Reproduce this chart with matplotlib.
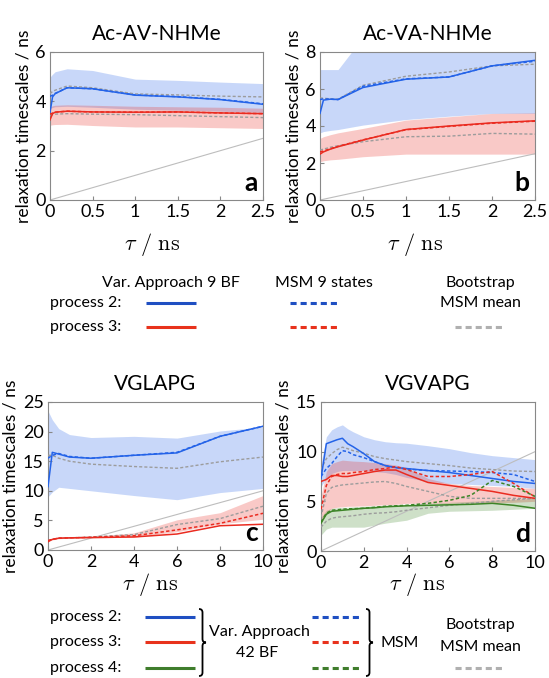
import numpy as np
import matplotlib
matplotlib.use("Agg")
import matplotlib.pyplot as plt
from matplotlib.lines import Line2D
from matplotlib.path import Path
from matplotlib.patches import PathPatch

plt.rcParams['font.family'] = ['Lato', 'DejaVu Sans']
plt.rcParams['mathtext.fontset'] = 'cm'

# ---------------- data ----------------
titles = ["Ac-AV-NHMe", "Ac-VA-NHMe", "VGLAPG", "VGVAPG"]
letters = ["a", "b", "c", "d"]

# panel a
tau_a = [0, 0.03, 0.06, 0.2, 0.5, 1.0, 1.5, 2.0, 2.5]
va2_a = [3.55, 4.18, 4.31, 4.55, 4.51, 4.25, 4.18, 4.07, 3.88]
msm2_a = [4.2, 4.25, 4.32, 4.55, 4.51, 4.26, 4.19, 4.08, 3.9]
bs2_a = [4.31, 4.4, 4.45, 4.62, 4.55, 4.3, 4.26, 4.21, 4.18]
hi2_a = [4.98, 5.1, 5.2, 5.32, 5.25, 4.9, 4.85, 4.78, 4.72]
lo2_a = [3.72, 3.75, 3.78, 3.8, 3.76, 3.68, 3.64, 3.6, 3.55]
va3_a = [3.25, 3.5, 3.56, 3.6, 3.57, 3.56, 3.57, 3.53, 3.5]
msm3_a = [3.48, 3.52, 3.56, 3.6, 3.57, 3.56, 3.57, 3.53, 3.5]
bs3_a = [3.44, 3.46, 3.48, 3.5, 3.48, 3.46, 3.42, 3.38, 3.34]
hi3_a = [3.78, 3.82, 3.84, 3.86, 3.84, 3.8, 3.78, 3.76, 3.72]
lo3_a = [3.03, 3.05, 3.06, 3.07, 3.02, 2.96, 2.96, 2.93, 2.9]

# panel b
tau_b = [0, 0.04, 0.12, 0.21, 0.5, 1.0, 1.5, 2.0, 2.5]
va2_b = [4.68, 5.4, 5.45, 5.43, 6.08, 6.53, 6.65, 7.25, 7.55]
msm2_b = [5.43, 5.47, 5.45, 5.43, 6.15, 6.55, 6.65, 7.25, 7.5]
bs2_b = [5.52, 5.5, 5.47, 5.45, 6.2, 6.69, 6.92, 7.25, 7.34]
hi2_b = [7.05, 7.05, 7.05, 7.05, 8.8, 9.5, 9.8, 10.0, 10.2]
lo2_b = [3.63, 3.7, 3.76, 3.81, 4.05, 4.35, 4.53, 4.68, 4.68]
va3_b = [2.48, 2.6, 2.75, 2.88, 3.24, 3.81, 4.0, 4.17, 4.28]
msm3_b = [2.6, 2.65, 2.77, 2.9, 3.25, 3.8, 3.98, 4.15, 4.26]
bs3_b = [2.7, 2.75, 2.85, 2.93, 3.15, 3.42, 3.45, 3.6, 3.56]
hi3_b = [3.33, 3.42, 3.53, 3.63, 3.87, 4.32, 4.5, 4.68, 4.71]
lo3_b = [2.07, 2.12, 2.17, 2.2, 2.34, 2.48, 2.48, 2.48, 2.48]

# panel c
tau_c = [0, 0.2, 0.5, 1, 2, 4, 6, 8, 10]
va2_c = [10.7, 16.5, 16.2, 15.7, 15.5, 16.0, 16.4, 19.2, 20.9]
msm2_c = [15.5, 16.0, 16.3, 15.8, 15.5, 16.0, 16.5, 19.2, 20.9]
bs2_c = [16.0, 16.0, 15.5, 15.0, 14.5, 14.1, 13.8, 14.9, 15.7]
hi2_c = [23.5, 22.0, 20.5, 19.5, 19.0, 19.2, 18.9, 20.1, 20.8]
lo2_c = [9.0, 9.8, 10.6, 10.4, 10.0, 9.2, 8.5, 9.7, 10.4]
va3_c = [1.4, 1.8, 2.0, 2.05, 2.1, 2.2, 2.7, 4.1, 4.35]
msm3_c = [1.6, 1.8, 2.0, 2.05, 2.15, 2.4, 3.4, 4.5, 6.2]
bs3_c = [1.6, 1.8, 2.0, 2.05, 2.2, 2.6, 4.3, 5.3, 7.4]
hi3_c = [1.7, 1.9, 2.1, 2.15, 2.3, 2.9, 5.1, 6.3, 9.2]
lo3_c = [1.5, 1.7, 1.9, 2.0, 2.05, 2.15, 3.1, 4.4, 5.2]

# panel d
tau_d = [0, 0.25, 0.5, 0.75, 1.0, 1.25, 1.5, 2, 2.5, 3, 3.5, 4, 5, 6, 7, 8, 9, 10]
va2_d = [7.3, 10.8, 11.0, 11.2, 11.35, 10.8, 10.5, 9.8, 9.0, 8.6, 8.4, 8.3, 8.1, 7.9, 7.6, 7.3, 7.0, 6.8]
msm2_d = [7.5, 8.3, 8.8, 9.5, 10.1, 10.0, 9.7, 9.4, 9.0, 8.6, 8.4, 8.25, 8.1, 8.05, 8.0, 7.9, 7.7, 7.0]
bs2_d = [8.2, 9.3, 9.8, 10.2, 10.45, 10.3, 10.1, 9.85, 9.5, 9.3, 9.15, 9.0, 8.8, 8.6, 8.35, 8.2, 8.05, 8.0]
hi2_d = [8.8, 11.5, 12.2, 12.5, 12.7, 12.3, 12.0, 11.5, 11.2, 11.0, 10.9, 10.85, 10.6, 10.3, 9.9, 9.6, 9.4, 9.2]
lo2_d = [6.5, 7.3, 7.8, 8.0, 8.1, 8.1, 8.1, 8.1, 8.0, 7.9, 7.7, 7.4, 7.0, 6.8, 6.7, 6.6, 6.5, 6.3]
va3_d = [7.0, 7.2, 7.6, 7.6, 7.5, 7.5, 7.6, 7.8, 8.0, 8.15, 8.15, 7.7, 6.9, 6.6, 6.3, 6.0, 5.6, 5.3]
msm3_d = [4.2, 6.6, 7.5, 7.7, 7.8, 7.8, 7.9, 8.0, 8.2, 8.3, 8.5, 8.2, 7.5, 7.5, 7.7, 8.0, 6.8, 5.45]
bs3_d = [3.4, 5.8, 6.4, 6.55, 6.65, 6.7, 6.75, 6.85, 6.95, 7.0, 6.8, 6.5, 6.0, 5.5, 5.3, 5.3, 5.3, 5.3]
hi3_d = [5.5, 8.0, 8.8, 9.0, 9.15, 9.1, 9.05, 9.0, 8.9, 8.8, 8.65, 8.4, 7.3, 6.8, 6.6, 6.5, 6.4, 6.3]
lo3_d = [2.8, 3.8, 4.3, 4.4, 4.45, 4.5, 4.5, 4.55, 4.6, 4.65, 4.7, 4.8, 4.8, 4.8, 4.85, 4.85, 4.9, 5.0]
va4_d = [2.8, 3.7, 4.0, 4.05, 4.1, 4.15, 4.2, 4.3, 4.35, 4.45, 4.5, 4.55, 4.6, 4.65, 4.7, 4.8, 4.6, 4.3]
msm4_d = [2.9, 3.8, 4.1, 4.15, 4.2, 4.25, 4.25, 4.3, 4.4, 4.5, 4.55, 4.6, 4.8, 5.1, 5.6, 7.1, 6.5, 5.5]
bs4_d = [2.4, 3.0, 3.3, 3.4, 3.45, 3.5, 3.55, 3.7, 3.8, 3.85, 3.95, 4.1, 4.35, 4.6, 4.8, 5.0, 5.15, 5.3]
hi4_d = [3.4, 4.1, 4.3, 4.35, 4.4, 4.4, 4.45, 4.5, 4.55, 4.6, 4.65, 4.7, 4.8, 4.9, 5.0, 5.1, 5.2, 5.3]
lo4_d = [1.6, 2.2, 2.4, 2.4, 2.4, 2.4, 2.4, 2.4, 2.6, 2.8, 2.95, 3.1, 3.8, 4.0, 4.05, 4.1, 4.2, 4.3]

xlims = [2.5, 2.5, 10, 10]
ylims = [6, 8, 25, 15]
xticks = [[0, 0.5, 1, 1.5, 2, 2.5], [0, 0.5, 1, 1.5, 2, 2.5],
          [0, 2, 4, 6, 8, 10], [0, 2, 4, 6, 8, 10]]
xticklabels = [["0", "0.5", "1", "1.5", "2", "2.5"], ["0", "0.5", "1", "1.5", "2", "2.5"],
               ["0", "2", "4", "6", "8", "10"], ["0", "2", "4", "6", "8", "10"]]
yticks = [[0, 2, 4, 6], [0, 2, 4, 6, 8], [0, 5, 10, 15, 20, 25], [0, 5, 10, 15]]

# ---------------- style ----------------
BLUE = '#2463e8'
RED = '#ea2b20'
GREEN = '#3c8427'
GREY = '#9c9c9c'
LBLUE = '#1f4fc2'
LRED = '#e8321c'
LGREEN = '#3f7d2c'
BAND_A = 0.25

W, H = 549, 678
fig = plt.figure(figsize=(W / 100, H / 100), dpi=100)


def rect(l, t, r, b):
    return [l / W, 1 - b / H, (r - l) / W, (b - t) / H]


def fx(px):
    return px / W


def fy(py):
    return 1 - py / H


axes = [fig.add_axes(rect(50, 52, 263, 200)),
        fig.add_axes(rect(320, 52, 535, 200)),
        fig.add_axes(rect(48, 402, 263, 550)),
        fig.add_axes(rect(321, 402, 535, 551))]

panels = [
    (tau_a, [(va2_a, msm2_a, bs2_a, hi2_a, lo2_a, BLUE),
             (va3_a, msm3_a, bs3_a, hi3_a, lo3_a, RED)]),
    (tau_b, [(va2_b, msm2_b, bs2_b, hi2_b, lo2_b, BLUE),
             (va3_b, msm3_b, bs3_b, hi3_b, lo3_b, RED)]),
    (tau_c, [(va2_c, msm2_c, bs2_c, hi2_c, lo2_c, BLUE),
             (va3_c, msm3_c, bs3_c, hi3_c, lo3_c, RED)]),
    (tau_d, [(va2_d, msm2_d, bs2_d, hi2_d, lo2_d, BLUE),
             (va3_d, msm3_d, bs3_d, hi3_d, lo3_d, RED),
             (va4_d, msm4_d, bs4_d, hi4_d, lo4_d, GREEN)]),
]

DASH = (2.2, 1.5)
for i, (ax, (tau, series)) in enumerate(zip(axes, panels)):
    for va, msm, bs, hi, lo, col in series:
        ax.fill_between(tau, lo, hi, color=col, alpha=BAND_A, lw=0, zorder=1)
    ax.axline((0, 0), slope=1, color='#bdbdbd', lw=0.8, zorder=2)
    for va, msm, bs, hi, lo, col in series:
        ax.plot(tau, bs, color=GREY, lw=1.0, dashes=DASH, zorder=3)
    for va, msm, bs, hi, lo, col in series:
        ax.plot(tau, va, color=col, lw=1.1, zorder=4)
        ax.plot(tau, msm, color=col, lw=1.1, dashes=DASH, zorder=5)
    ax.set_xlim(0, xlims[i])
    ax.set_ylim(0, ylims[i])
    ax.set_xticks(xticks[i])
    ax.set_xticklabels(xticklabels[i])
    ax.set_yticks(yticks[i])
    ax.tick_params(direction='in', length=3, width=0.8, color='#888888',
                   labelsize=13, pad=3)
    for s in ax.spines.values():
        s.set_color('#888888')
        s.set_linewidth(0.8)
    ax.set_title(titles[i], fontsize=15, pad=9)
    ax.set_ylabel("relaxation timescales / ns", fontsize=12.5, labelpad=3)
    ax.text(0.975, 0.035, letters[i], transform=ax.transAxes, ha='right',
            va='bottom', fontsize=19, fontweight='bold')

# x labels
for xc, yc in [(152, 244), (415, 244), (150, 584), (417, 584)]:
    fig.text(fx(xc), fy(yc), r'$\tau\ /\ \mathrm{ns}$', fontsize=16,
             ha='center', va='center')


def hline(x0, x1, y, color, dashed=False, lw=2.2):
    ln = Line2D([fx(x0), fx(x1)], [fy(y), fy(y)], transform=fig.transFigure,
                color=color, lw=lw, solid_capstyle='butt', dash_capstyle='butt')
    if dashed:
        ln.set_dashes((2.0, 1.3))
    fig.add_artist(ln)


def brace(x, y_top, y_bot, w):
    ym = (y_top + y_bot) / 2
    h = w / 2
    pts = [(x, y_top), (x + h, y_top), (x + h, y_top + h),
           (x + h, ym - h), (x + h, ym), (x + w, ym),
           (x + h, ym), (x + h, ym + h),
           (x + h, y_bot - h), (x + h, y_bot), (x, y_bot)]
    codes = [Path.MOVETO, Path.CURVE3, Path.CURVE3,
             Path.LINETO, Path.CURVE3, Path.CURVE3,
             Path.CURVE3, Path.CURVE3,
             Path.LINETO, Path.CURVE3, Path.CURVE3]
    verts = [(fx(px), fy(py)) for px, py in pts]
    patch = PathPatch(Path(verts, codes), transform=fig.transFigure,
                      fill=False, lw=1.3, edgecolor='black')
    fig.add_artist(patch)


LFS = 11.5
# ---- top legend ----
fig.text(fx(171), fy(283), "Var. Approach 9 BF", fontsize=LFS, ha='center', va='center')
fig.text(fx(324), fy(283), "MSM 9 states", fontsize=LFS, ha='center', va='center')
fig.text(fx(480), fy(283), "Bootstrap", fontsize=LFS, ha='center', va='center')
fig.text(fx(480), fy(303), "MSM mean", fontsize=LFS, ha='center', va='center')
fig.text(fx(121), fy(303), "process 2:", fontsize=LFS, ha='right', va='center')
fig.text(fx(121), fy(327), "process 3:", fontsize=LFS, ha='right', va='center')
hline(146, 196, 303, LBLUE)
hline(146, 196, 327, LRED)
hline(290, 338, 303, LBLUE, dashed=True)
hline(290, 338, 327, LRED, dashed=True)
hline(455, 503, 327, '#b0b0b0', dashed=True)

# ---- bottom legend ----
for y, lab, col in [(617, "process 2:", LBLUE), (642, "process 3:", LRED),
                    (668, "process 4:", LGREEN)]:
    fig.text(fx(121), fy(y), lab, fontsize=LFS, ha='right', va='center')
    hline(145, 195, y, col)
    hline(312, 362, y, col, dashed=True)
brace(199, 609, 676, 7)
brace(366, 609, 676, 7)
fig.text(fx(259), fy(632), "Var. Approach", fontsize=LFS, ha='center', va='center')
fig.text(fx(257), fy(653), "42 BF", fontsize=LFS, ha='center', va='center')
fig.text(fx(381), fy(643), "MSM", fontsize=LFS, ha='left', va='center')
fig.text(fx(480), fy(625), "Bootstrap", fontsize=LFS, ha='center', va='center')
fig.text(fx(480), fy(647), "MSM mean", fontsize=LFS, ha='center', va='center')
hline(455, 503, 668, '#b0b0b0', dashed=True)

fig.savefig("out.png", dpi=100)
